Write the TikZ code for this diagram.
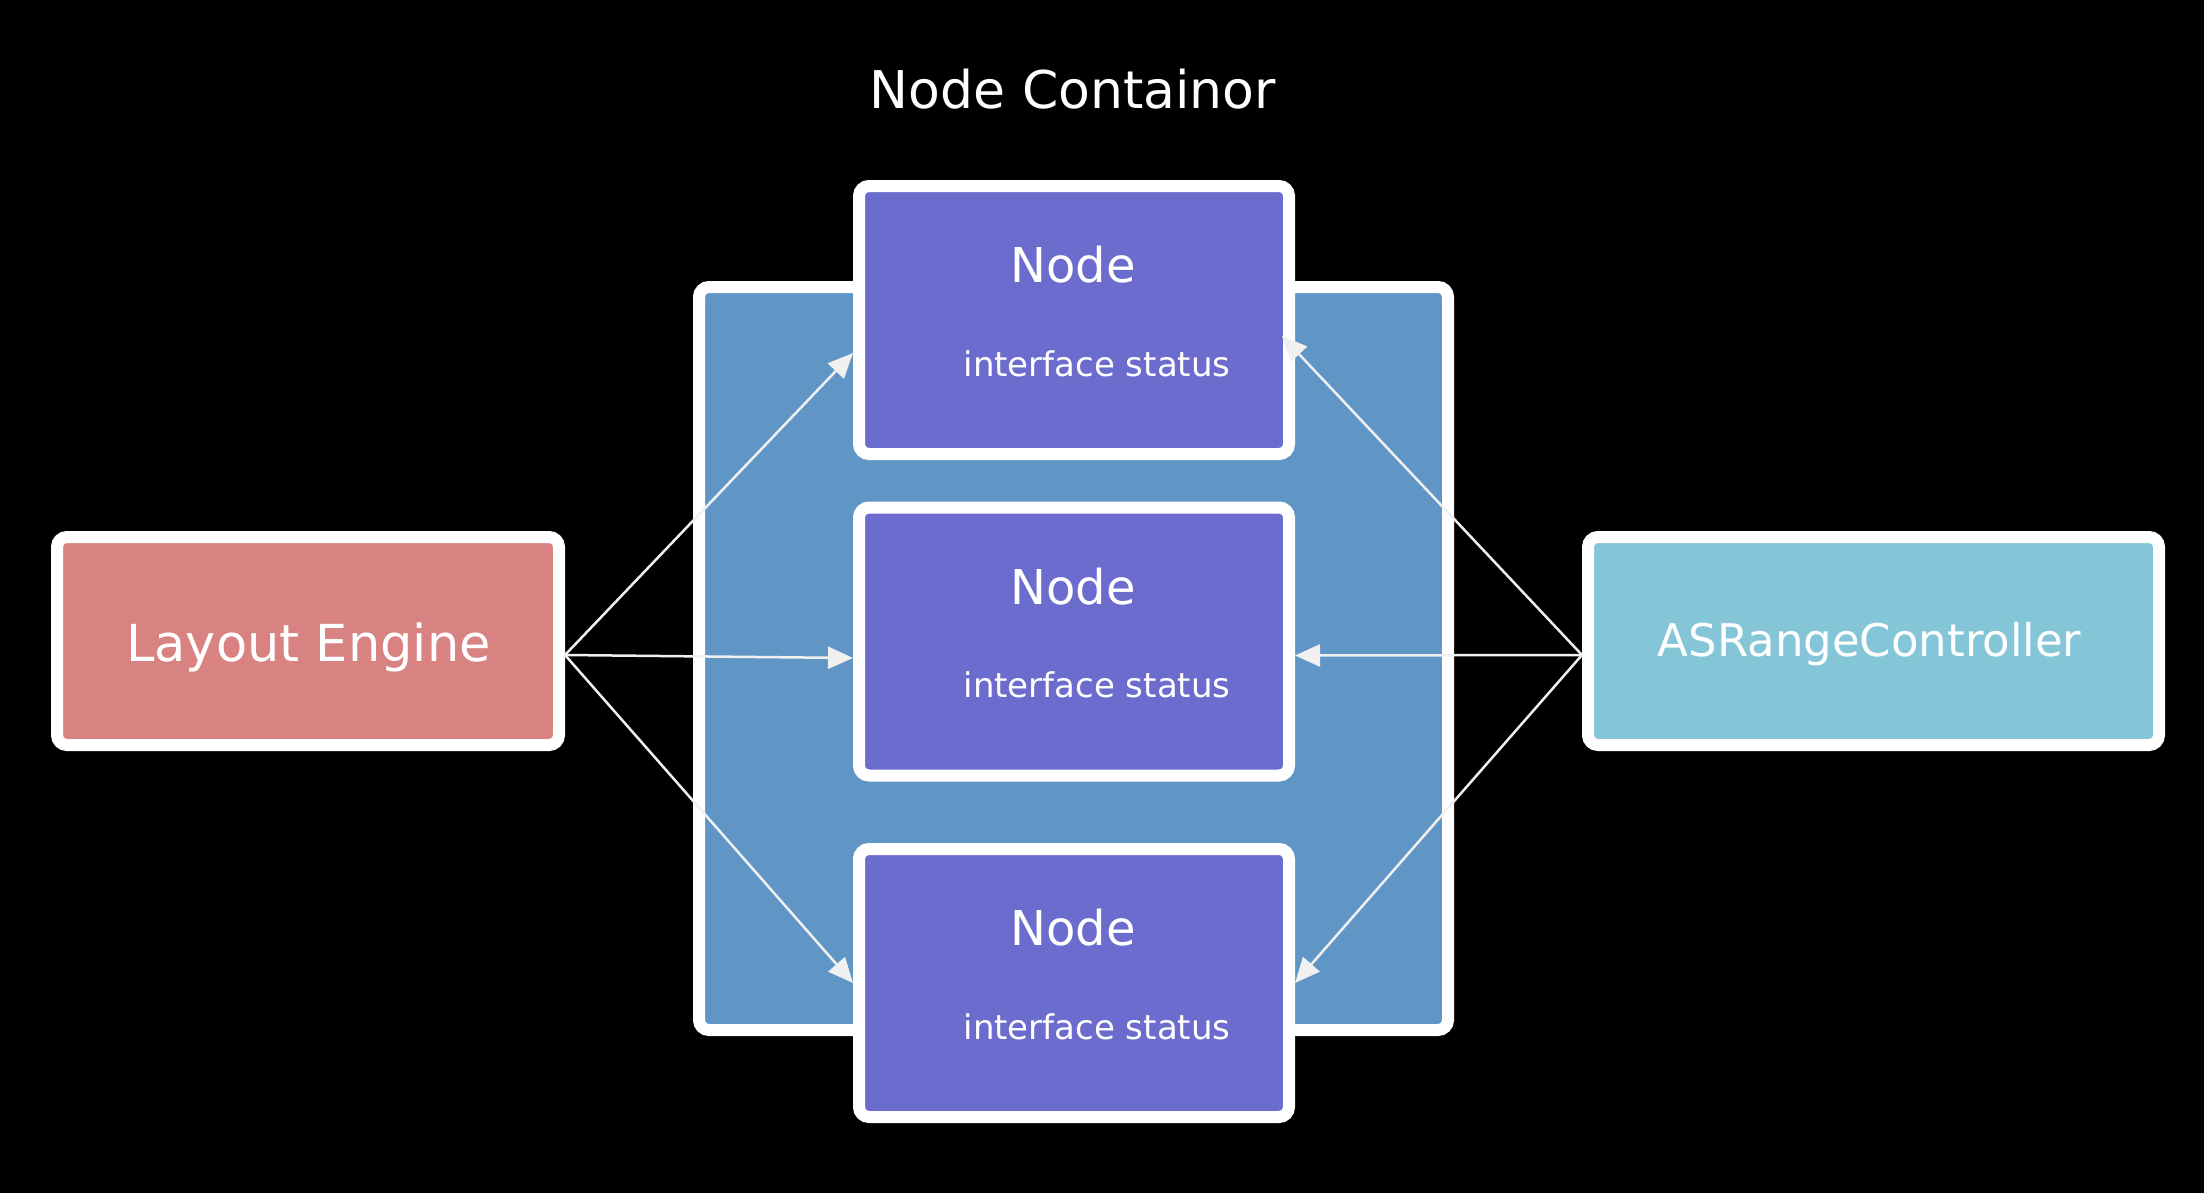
\documentclass[tikz,border=0pt]{standalone}
\usepackage{fontspec}
\setmainfont{DejaVu Sans}
\usetikzlibrary{arrows.meta,calc}
\definecolor{lepink}{HTML}{D88282}
\definecolor{asrcyan}{HTML}{84C6D8}
\definecolor{contblue}{HTML}{6096C6}
\definecolor{nodeviolet}{HTML}{6C6CCE}
\definecolor{arrowgrey}{HTML}{F0F0F0}
\begin{document}
\begin{tikzpicture}[x=1pt,y=-1pt,
  box/.style={draw=white, line width=12pt, rounded corners=10pt, inner sep=0pt, outer sep=6pt},
  nodebox/.style={box, fill=nodeviolet, minimum width=430pt, minimum height=268pt},
  txt/.style={text=white, inner sep=0pt, outer sep=0pt, anchor=base},
  nodetitle/.style={txt, font=\fontsize{48}{48}\selectfont},
  nodesub/.style={txt, font=\fontsize{34}{34}\selectfont},
  conn/.style={draw=arrowgrey, line width=2.5pt, -{Triangle[length=25pt,width=22pt]}}]
\useasboundingbox (0,0) rectangle (2204,1192);
\fill[black] (-6,-6) rectangle (2210,1198);
% title
\node[txt, font=\fontsize{52}{52}\selectfont] (title) at (1073,108) {Node Containor};
% container
\node[box, fill=contblue, minimum width=749pt, minimum height=743pt] (cont) at (1073.5,658.5) {};
% nodes
\node[nodebox] (n1) at (1074,320) {};
\node[nodebox] (n2) at (1074,641.5) {};
\node[nodebox] (n3) at (1074,983) {};
\foreach \n in {n1,n2,n3}{
  \node[nodetitle] (\n t) at ($(\n.center)+(-1,-37.5)$) {Node};
  \node[nodesub] (\n s) at ($(\n.center)+(23,56)$) {interface status};
}
% side boxes
\node[box, fill=lepink, minimum width=502pt, minimum height=208pt] (le) at (308,641) {};
\node[txt, font=\fontsize{51}{51}\selectfont] (let) at ($(le.center)+(0.5,20.7)$) {Layout Engine};
\node[box, fill=asrcyan, minimum width=571pt, minimum height=208pt] (asr) at (1873.5,641) {};
\node[txt, font=\fontsize{45}{45}\selectfont] (asrt) at ($(asr.center)+(-4,15)$) {ASRangeController};
% connectors
\coordinate (les) at ($(le.east)+(0,14)$);
\coordinate (asrs) at ($(asr.west)+(0,14)$);
\draw[conn] (les) -- ($(n1.west)+(0,33)$);
\draw[conn] (les) -- ($(n2.west)+(0,16.5)$);
\draw[conn] (les) -- (n3.west);
\draw[conn] (asrs) -- ($(n1.east)+(-13,16)$);
\draw[conn] (asrs) -- ($(n2.east)+(0,14)$);
\draw[conn] (asrs) -- (n3.east);
\end{tikzpicture}
\end{document}
